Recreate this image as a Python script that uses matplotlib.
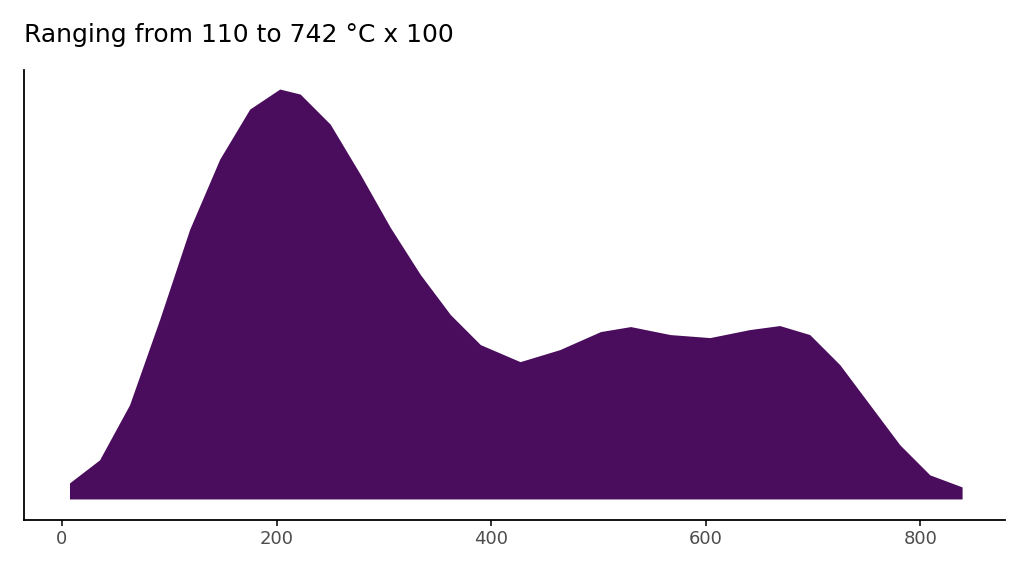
import numpy as np
import matplotlib
matplotlib.use('Agg')
import matplotlib.pyplot as plt

# density curve (x value, height)
x_vals = [7, 35, 63, 91, 119, 147, 175, 203, 222, 250, 278, 306, 334, 362, 390,
          427, 464, 502, 530, 567, 604, 641, 669, 697, 725, 753, 781, 809, 839]
dens = [16, 39, 94, 179, 269, 339, 389, 409, 404, 374, 324, 271, 224, 184, 154,
        137, 149, 167, 172, 164, 161, 169, 173, 164, 134, 94, 54, 24, 12]
x_ticks = [0, 200, 400, 600, 800]
title = "Ranging from 110 to 742 °C x 100"

fig = plt.figure(figsize=(10.24, 5.76), dpi=100)
ax = fig.add_axes([24 / 1024, 56 / 576, 981 / 1024, 450 / 576])
ax.fill_between(x_vals, 0, dens, color='#4a0c5c', lw=0)
ax.set_xlim(-35.4, 879)
ax.set_ylim(-21, 428)
ax.set_xticks(x_ticks)
ax.set_yticks([])
for s in ['top', 'right']:
    ax.spines[s].set_visible(False)
for s in ['left', 'bottom']:
    ax.spines[s].set_linewidth(1.3)
ax.tick_params(axis='x', labelsize=13, labelcolor='#4d4d4d', length=4, width=1.1)
fig.text(24 / 1024, 1 - 35 / 576, title, fontsize=18, va='center', ha='left')
fig.savefig('out.png', dpi=100)
